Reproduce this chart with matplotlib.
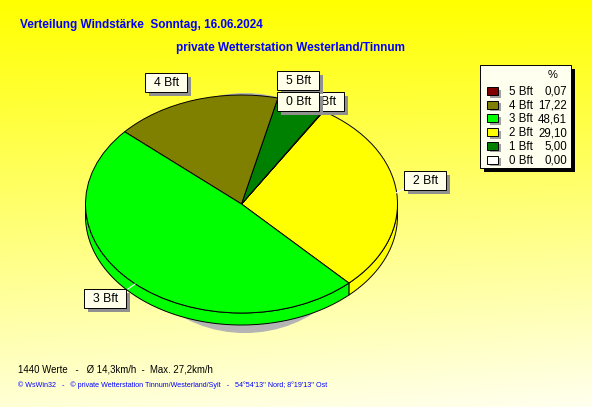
"""
Wind force distribution pie (WsWin32 style)
"""
import numpy as np
import matplotlib.pyplot as plt
from matplotlib.patches import Rectangle, Ellipse, Polygon

W, H = 592, 407

# DATA

labels = ['5 Bft', '4 Bft', '3 Bft', '2 Bft', '1 Bft', '0 Bft']
percent = [0.07, 17.22, 48.61, 29.10, 5.00, 0.00]
percent_txt = ['0,07', '17,22', '48,61', '29,10', '5,00', '0,00']
colors = ['#800000', '#808000', '#00ff00', '#ffff00', '#008000', '#ffffff']
# order of the slices round the pie, counter-clockwise
pie_order = ['2 Bft', '5 Bft', '0 Bft', '1 Bft', '4 Bft', '3 Bft']

title = 'Verteilung Windstärke  Sonntag, 16.06.2024'
subtitle = 'private Wetterstation Westerland/Tinnum'
stats = '1440 Werte   -   Ø 14,3km/h  -  Max. 27,2km/h'
footer = "© WsWin32   -   © private Wetterstation Tinnum/Westerland/Sylt   -   54°54'13'' Nord; 8°19'13'' Ost"

plt.rcParams['font.family'] = ['Liberation Sans', 'DejaVu Sans']

fig = plt.figure(figsize=(W / 100, H / 100), dpi=100)

# BACKGROUND (vertical yellow gradient)
bg = fig.add_axes([0, 0, 1, 1])
yy, xx = np.mgrid[0:H, 0:W]
blue = (yy / H) * (0.84 + 0.10 * xx / W)
grad = np.dstack([np.ones_like(blue), np.ones_like(blue), blue])
bg.imshow(grad, extent=(0, W, H, 0), aspect='auto', interpolation='bilinear')
bg.set_xlim(0, W)
bg.set_ylim(H, 0)
bg.axis('off')

# PIE (elliptic via non-equal axes scaling)
pax = fig.add_axes([7.5 / W, 39.5 / H, 468 / W, 327 / H])
pax.patch.set_alpha(0)
vals = [percent[labels.index(l)] for l in pie_order]
cols = [colors[labels.index(l)] for l in pie_order]
wedges, _ = pax.pie(vals, colors=cols, startangle=-46.5, counterclock=True,
                    wedgeprops=dict(edgecolor='black', linewidth=0.7))
pax.set_aspect('auto')
pax.set_xlim(-1.5, 1.5)
pax.set_ylim(-1.5, 1.5)
pax.axis('off')

depth = 12 / 109

# shadow
pax.add_patch(Ellipse((0.022, -0.083), 2 * 125 / 156, 2 * 120 / 109,
                      fc='#b4b4b4', ec='none', zorder=0.2))

# side walls of the front half
for w, c in zip(wedges, cols):
    t1, t2 = w.theta1, w.theta2
    if t2 - t1 <= 0:
        continue
    for k in range(-1, 3):
        a = max(t1, 180 + 360 * k)
        b = min(t2, 360 + 360 * k)
        if b <= a:
            continue
        t = np.radians(np.linspace(a, b, 80))
        top = np.column_stack([np.cos(t), np.sin(t)])
        bot = np.column_stack([np.cos(t[::-1]), np.sin(t[::-1]) - depth])
        pax.add_patch(Polygon(np.vstack([top, bot]), closed=True, fc=c,
                              ec='black', lw=0.7, zorder=0.5))

# OVERLAY (texts, label boxes, legend) in pixel coordinates
ov = fig.add_axes([0, 0, 1, 1])
ov.patch.set_alpha(0)
ov.set_xlim(0, W)
ov.set_ylim(H, 0)
ov.axis('off')

ov.text(20, 25, title, color='#0000ff', fontsize=8.45, fontweight='bold',
        va='center', ha='left')
ov.text(176, 48, subtitle, color='#0000ff', fontsize=8.45, fontweight='bold',
        va='center', ha='left')
ov.text(18, 369, stats, color='black', fontsize=6.9, va='center', ha='left')
ov.text(18, 385, footer, color='#0000ff', fontsize=5.15, va='center', ha='left')


def label_box(x, y, text, z, w=42, h=19):
    ov.add_patch(Rectangle((x + 4, y + 4), w, h, fc='#909090', ec='none',
                           zorder=z))
    ov.add_patch(Rectangle((x, y), w, h, fc='#ffffea', ec='black', lw=0.7,
                           zorder=z + 0.1))
    ov.text(x + w / 2 + 1, y + h / 2 + 0.5, text, fontsize=8.8,
            ha='center', va='center', color='black', zorder=z + 0.2)


# white leader lines
ov.plot([396, 405], [193, 188], color='white', lw=0.8)
ov.plot([128, 135], [289, 284], color='white', lw=0.8)

box_pos = {'4 Bft': (145, 73), '1 Bft': (302, 92), '5 Bft': (277, 71),
           '0 Bft': (277, 92), '2 Bft': (404, 171), '3 Bft': (84, 289)}
for i, lab in enumerate(['4 Bft', '1 Bft', '5 Bft', '0 Bft', '2 Bft', '3 Bft']):
    x, y = box_pos[lab]
    label_box(x, y, lab, 3 + i)

# legend
lx, ly, lw_, lh = 480, 65, 91, 103
ov.add_patch(Rectangle((lx + 4, ly + 4), lw_, lh, fc='black', ec='none', zorder=10))
ov.add_patch(Rectangle((lx, ly), lw_, lh, fc='#fffff0', ec='black', lw=0.7, zorder=10.1))
ov.text(553, 75, '%', fontsize=8, ha='center', va='center', zorder=11)
for i, (lab, col, ptxt) in enumerate(zip(labels, colors, percent_txt)):
    y = 92 + i * 13.7
    ov.add_patch(Rectangle((490, y - 2.5), 11, 8, fc='#a0a0a0', ec='none', zorder=10.2))
    ov.add_patch(Rectangle((487, y - 5), 11, 8, fc=col, ec='black', lw=0.7, zorder=10.3))
    ov.text(509, y, lab, fontsize=8.3, ha='left', va='center', zorder=11)
    ov.text(567, y, ptxt, fontsize=8.3, ha='right', va='center', zorder=11)

plt.savefig('out.png', dpi=100)
